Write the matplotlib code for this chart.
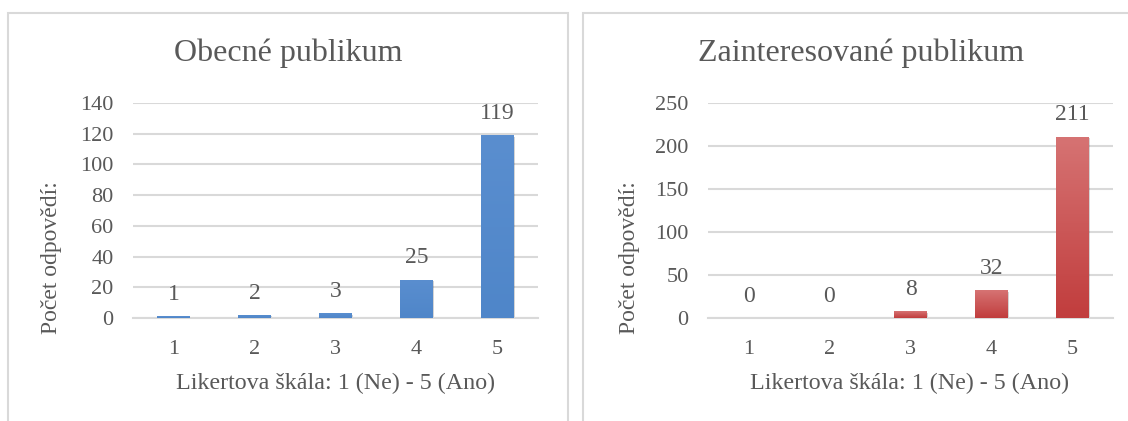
import matplotlib
matplotlib.use("Agg")
import matplotlib.pyplot as plt
import matplotlib.patheffects as pe
from matplotlib.colors import LinearSegmentedColormap
from matplotlib.patches import Rectangle
import numpy as np

plt.rcParams['font.family'] = ['Liberation Serif', 'DejaVu Serif']

categories = ['1', '2', '3', '4', '5']
general = [1, 2, 3, 25, 119]
interested = [0, 0, 8, 32, 211]
titles = ['Obecné publikum', 'Zainteresované publikum']
ylims = [140, 250]
ysteps = [20, 50]
xlabel = 'Likertova škála: 1 (Ne) - 5 (Ano)'
ylabel = 'Počet odpovědí:'

text_col = '#595959'
grid_col = '#d9d9d9'

W, H = 1128, 421
fig = plt.figure(figsize=(W / 100, H / 100), dpi=100)

# panel frames (pixel coords -> figure fraction)
def px(x, y):
    return x / W, 1 - y / H

for x0, x1 in [(8, 568), (583, 1160)]:
    fx0, fy0 = px(x0, 460)
    fx1, fy1 = px(x1, 13)
    fig.patches.append(Rectangle((fx0, fy0), fx1 - fx0, fy1 - fy0,
                                 transform=fig.transFigure, fill=False,
                                 edgecolor=grid_col, lw=1.5))

blue_cmap = LinearSegmentedColormap.from_list('b', ['#4f86c9', '#5a8ecf'])
red_cmap = LinearSegmentedColormap.from_list('r', ['#c13d3d', '#d67373'])

panels = [
    (general, 133, 288, blue_cmap, 52),
    (interested, 708, 861, red_cmap, 630),
]

for i, (vals, ax_x, title_x, cmap, ylab_x) in enumerate(panels):
    fx, fy = px(ax_x, 318)
    ax = fig.add_axes([fx, fy, 405 / W, 215 / H])
    x = np.arange(len(categories))
    bars = ax.bar(x, vals, width=0.4, color='none', zorder=3)
    ax.set_xticks(x)
    ax.set_xticklabels(categories)
    for b in bars:
        if b.get_height() <= 0:
            continue
        bx, by = b.get_x(), b.get_y()
        bw, bh = b.get_width(), b.get_height()
        shadow = Rectangle((bx, by), bw, bh, facecolor='#888888', alpha=0.25,
                           zorder=2, edgecolor='none',
                           path_effects=[pe.SimplePatchShadow(offset=(1, -1), alpha=0.2)])
        ax.add_patch(shadow)
        grad = np.linspace(0, 1, 100).reshape(-1, 1)
        im = ax.imshow(grad, cmap=cmap, aspect='auto', origin='lower',
                       extent=[bx, bx + bw, by, by + bh], zorder=3)
        im.set_clip_path(b)
    ax.set_xlim(-0.5, len(categories) - 0.5)
    ax.set_ylim(0, ylims[i])
    ax.set_yticks(np.arange(0, ylims[i] + 1, ysteps[i]))

    for xi, v in zip(x, vals):
        ax.annotate(str(v), (xi, v), xytext=(0, 8), textcoords='offset points',
                    ha='center', va='bottom', fontsize=17, color=text_col)

    ax.grid(axis='y', color=grid_col, lw=1.5, zorder=0)
    ax.set_axisbelow(True)
    for s in ['top', 'right', 'left']:
        ax.spines[s].set_visible(False)
    ax.spines['bottom'].set_color(grid_col)
    ax.spines['bottom'].set_linewidth(1.5)
    ax.tick_params(length=0, labelsize=16, labelcolor=text_col)
    ax.tick_params(axis='y', pad=14)
    ax.tick_params(axis='x', pad=16)

    tx, ty = px(title_x, 53)
    fig.text(tx, ty, titles[i], ha='center', va='center', fontsize=23, color=text_col)
    lx, ly = px(ax_x + 202, 383)
    fig.text(lx, ly, xlabel, ha='center', va='center', fontsize=17.3, color=text_col)
    yx, yy = px(ylab_x, 258)
    fig.text(yx, yy, ylabel, ha='center', va='center', rotation=90, fontsize=17, color=text_col)

fig.savefig('out.png', dpi=100, facecolor='white')
